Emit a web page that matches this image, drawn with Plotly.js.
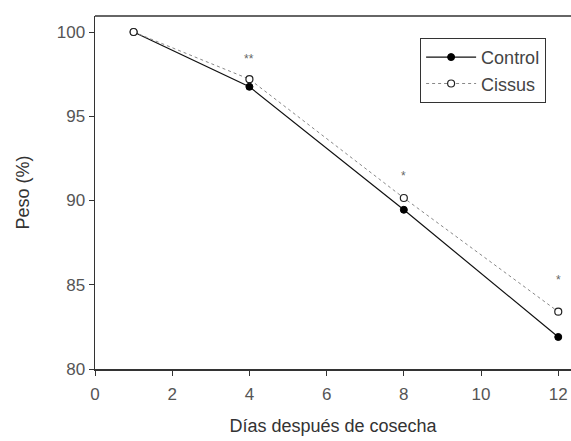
<!DOCTYPE html>
<html><head><meta charset="utf-8">
<script src="https://cdn.plot.ly/plotly-3.0.1.min.js"></script>
<style>html,body{margin:0;padding:0;background:#fff}#chart{width:571px;height:441px}</style>
</head><body><div id="chart"></div>
<script>
const days = [1, 4, 8, 12];
const control = [100, 96.75, 89.45, 81.9];
const cissus = [100, 97.2, 90.15, 83.4];
const sigDays = [4, 8, 12];
const sigY = [98.4, 91.45, 85.3];
const sigLabels = ['**', '*', '*'];
const xTicks = [0, 2, 4, 6, 8, 10, 12];
const yTicks = [80, 85, 90, 95, 100];

const font = 'Liberation Sans, Arial, sans-serif';
const traces = [
  {x: days, y: control, name: 'Control', mode: 'lines+markers', type: 'scatter',
   line: {color: '#111', width: 1.2},
   marker: {symbol: 'circle', size: 7, color: '#000', line: {color: '#000', width: 1}}},
  {x: days, y: cissus, name: 'Cissus', mode: 'lines+markers', type: 'scatter',
   line: {color: '#888', width: 1, dash: 'dot'},
   marker: {symbol: 'circle', size: 7, color: '#fff', line: {color: '#222', width: 1.2}}}
];
const annotations = sigDays.map((d, i) => ({
  x: d, y: sigY[i], text: sigLabels[i], showarrow: false, xref: 'x', yref: 'y',
  font: {family: font, size: 12, color: '#666'}
}));
const layout = {
  width: 571, height: 441,
  margin: {l: 95, r: 0, t: 16, b: 72},
  paper_bgcolor: '#fff', plot_bgcolor: '#fff',
  showlegend: true,
  legend: {x: 0.683, y: 0.938, xanchor: 'left', yanchor: 'top',
    bordercolor: '#333', borderwidth: 1, bgcolor: '#fff', itemwidth: 50,
    font: {family: font, size: 18, color: '#444'}, tracegroupgap: 0},
  xaxis: {range: [0, 12.33], tickvals: xTicks, ticktext: xTicks.map(String),
    showgrid: false, zeroline: false, showline: true, linecolor: '#333', linewidth: 1.5,
    ticks: 'outside', ticklen: 5, tickcolor: '#333', ticklabelstandoff: 4,
    tickfont: {family: font, size: 17, color: '#555'},
    title: {text: 'Días después de cosecha', font: {family: font, size: 18, color: '#333'}, standoff: 16}},
  yaxis: {range: [80, 100.95], tickvals: yTicks, ticktext: yTicks.map(String),
    showgrid: false, zeroline: false, showline: true, linecolor: '#333', linewidth: 1.5,
    ticks: 'outside', ticklen: 5, tickcolor: '#333', tickfont: {family: font, size: 17, color: '#555'},
    title: {text: 'Peso (%)', font: {family: font, size: 18, color: '#333'}, standoff: 22}},
  shapes: [{type: 'line', xref: 'paper', yref: 'paper', x0: 0, x1: 1, y0: 1, y1: 1,
    line: {color: '#333', width: 1.5}}],
  annotations: annotations
};
Plotly.newPlot('chart', traces, layout, {displayModeBar: false, staticPlot: true});
</script></body></html>
